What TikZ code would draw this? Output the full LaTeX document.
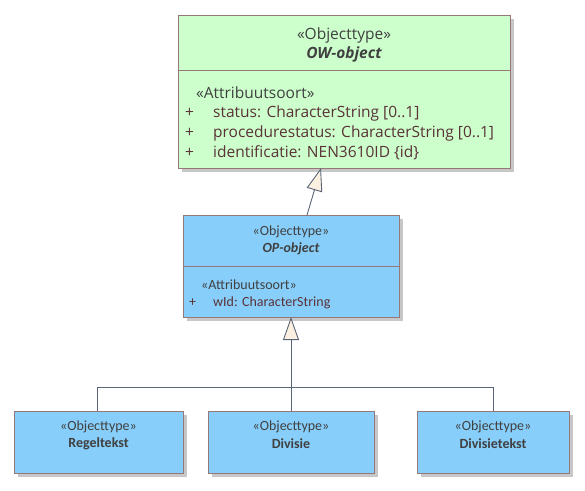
\documentclass[tikz,border=0pt]{standalone}
\usepackage{fontspec}
\usetikzlibrary{arrows.meta,shadows}
\newfontfamily\segfont{Open Sans}
\newfontfamily\calfont{Carlito}
\definecolor{owgreen}{RGB}{204,255,204}
\definecolor{opblue}{RGB}{135,206,250}
\definecolor{boxline}{RGB}{150,120,120}
\definecolor{conncol}{RGB}{90,100,120}
\definecolor{cream}{RGB}{252,240,224}
\definecolor{stereo}{RGB}{64,64,64}
\definecolor{attrcol}{RGB}{90,50,55}
\begin{document}
\begin{tikzpicture}[x=1pt,y=-1pt,
  umlbox/.style={draw=boxline,line width=0.9pt,inner sep=0pt,outer sep=0pt,anchor=north west,
    drop shadow={shadow xshift=4pt,shadow yshift=-4pt,fill=black!22,opacity=1}},
  divider/.style={draw=boxline,line width=0.9pt},
  conn/.style={draw=conncol,line width=0.9pt},
  gen/.style={conn,-{Triangle[length=23pt,width=16pt,fill=cream,line width=0.9pt]}},
  bigtxt/.style={font=\segfont\fontsize{15.5}{18}\selectfont,text=stereo,inner sep=0pt},
  bigattr/.style={font=\segfont\fontsize{15.5}{18}\selectfont,text=attrcol,inner sep=0pt,anchor=west},
  smtxt/.style={font=\calfont\fontsize{14}{16}\selectfont,text=stereo,inner sep=0pt},
  smattr/.style={font=\calfont\fontsize{14}{16}\selectfont,text=attrcol,inner sep=0pt,anchor=west}]
\useasboundingbox (0,0) rectangle (585,490);
% boxes
\node[umlbox,fill=owgreen,minimum width=332pt,minimum height=153pt] (ow) at (178,15) {};
\node[umlbox,fill=opblue,minimum width=216pt,minimum height=102pt] (op) at (183,215) {};
\node[umlbox,fill=opblue,minimum width=169pt,minimum height=62pt] (reg) at (14,411) {};
\node[umlbox,fill=opblue,minimum width=166pt,minimum height=62pt] (div) at (208,411) {};
\node[umlbox,fill=opblue,minimum width=152pt,minimum height=62pt] (divt) at (417,411) {};
% dividers
\draw[divider] (178,70) -- (510,70);
\draw[divider] (183,266) -- (399,266);
% OW-object texts
\node[bigtxt] (owst) at (344,35) {«Objecttype»};
\node[bigtxt,font=\segfont\bfseries\itshape\fontsize{15.5}{18}\selectfont] (owname) at (344,54) {OW-object};
\node[bigtxt,anchor=west] (owattst) at (196,93) {«Attribuutsoort»};
\node[bigattr] (owp1) at (185,113) {+};
\node[bigattr] (owa1) at (213,113) {status: CharacterString [0..1]};
\node[bigattr] (owp2) at (185,133) {+};
\node[bigattr] (owa2) at (213,133) {procedurestatus: CharacterString [0..1]};
\node[bigattr] (owp3) at (185,153) {+};
\node[bigattr] (owa3) at (213,153) {identificatie: NEN3610ID \{id\}};
% OP-object texts
\node[smtxt] (opst) at (291,232) {«Objecttype»};
\node[smtxt,font=\calfont\bfseries\itshape\fontsize{14}{16}\selectfont] (opname) at (291,249) {OP-object};
\node[smtxt,anchor=west] (opattst) at (201,285) {«Attribuutsoort»};
\node[smattr] (opp1) at (189,303) {+};
\node[smattr] (opa1) at (213,303) {wId: CharacterString};
% bottom texts
\node[smtxt] (regst) at (98.5,427) {«Objecttype»};
\node[smtxt,font=\calfont\bfseries\fontsize{14}{16}\selectfont] (regname) at (98.5,444) {Regeltekst};
\node[smtxt] (divst) at (291,427) {«Objecttype»};
\node[smtxt,font=\calfont\bfseries\fontsize{14}{16}\selectfont] (divname) at (291,444) {Divisie};
\node[smtxt] (divtst) at (493,427) {«Objecttype»};
\node[smtxt,font=\calfont\bfseries\fontsize{14}{16}\selectfont] (divtname) at (493,444) {Divisietekst};
% connectors
\coordinate (bus) at (291,387);
\draw[gen] ([xshift=124pt]op.north west) -- ([xshift=143pt]ow.south west);
\draw[conn] ([xshift=83pt]reg.north west) |- (bus);
\draw[conn] ([xshift=76pt]divt.north west) |- (bus);
\draw[gen] (div.north) -- (op.south);
\end{tikzpicture}
\end{document}
